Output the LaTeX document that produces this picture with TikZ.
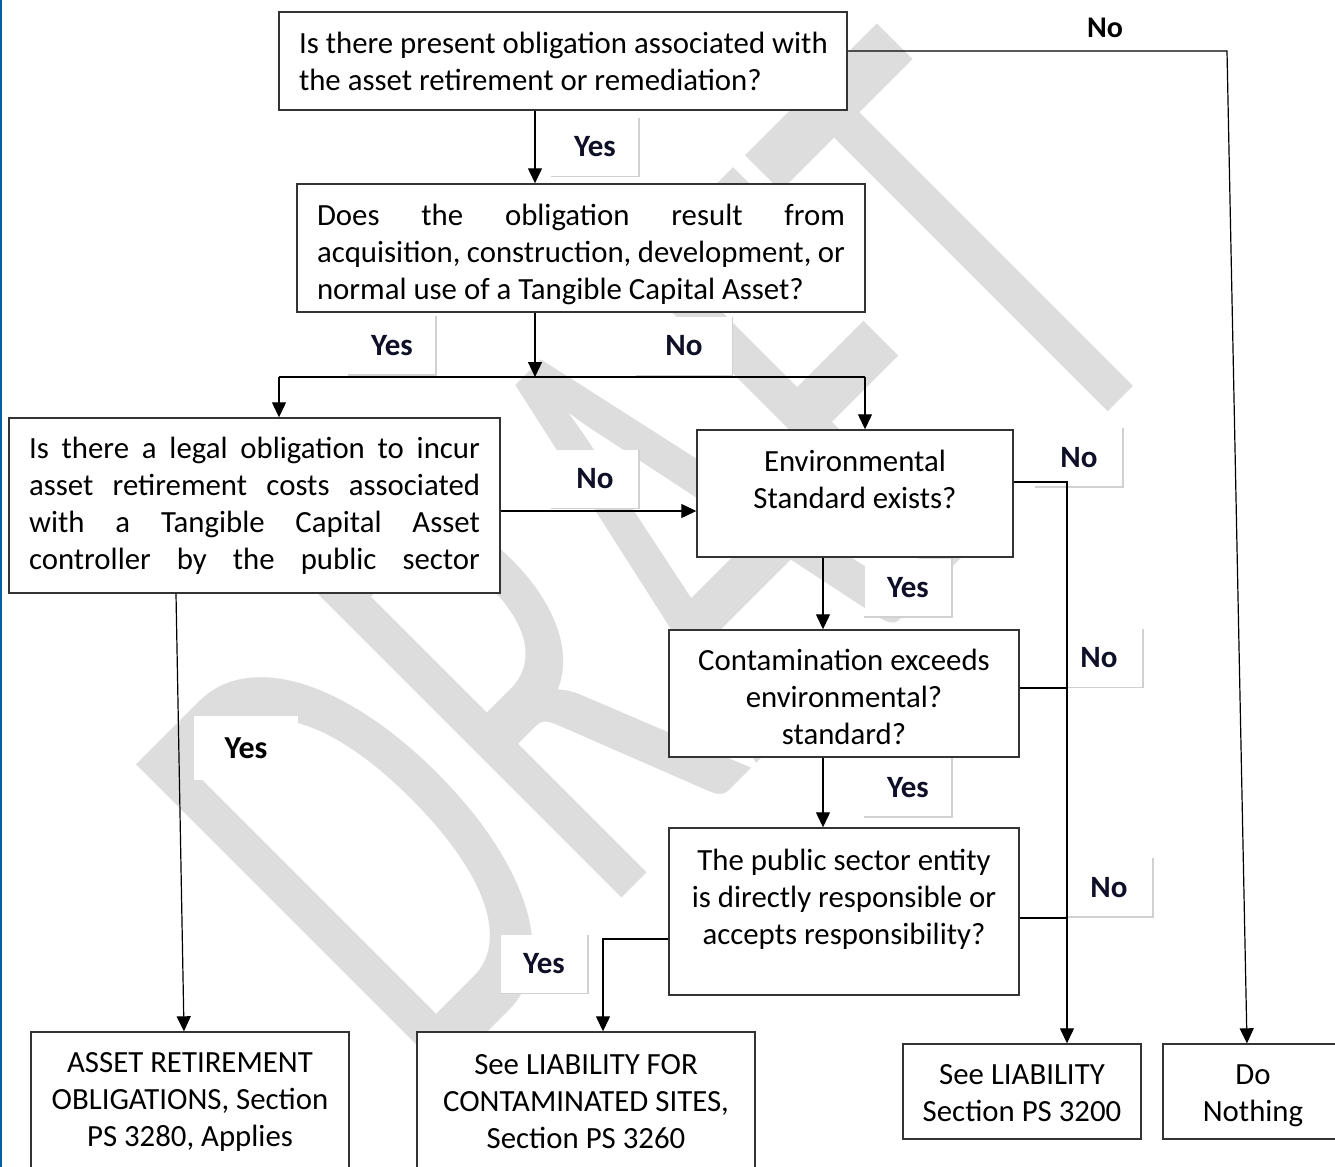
\documentclass[tikz,border=0pt]{standalone}
\usepackage{fontspec}
\setmainfont{Carlito}
\usetikzlibrary{arrows.meta,positioning}
\definecolor{wmgrey}{gray}{0.865}
\definecolor{lblink}{RGB}{15,15,40}
\definecolor{shadowgrey}{gray}{0.82}
\definecolor{edgeblue}{RGB}{0,96,160}

\begin{document}
\begin{tikzpicture}[
    x=0.5pt,y=-0.5pt,
    font=\fontsize{15.4}{18.5}\selectfont,
    box/.style={draw=black!80,line width=0.7pt,fill=white,inner sep=0pt,align=center,
                execute at begin node={\spaceskip=0pt\xspaceskip=0pt\relax}},
    lbl/.style={fill=white,inner sep=0pt,minimum width=43.5pt,minimum height=29pt,
                font=\fontsize{15.5}{17}\selectfont\bfseries,text=lblink},
    >={Triangle[width=7pt,length=7.5pt]},
    arr/.style={->,line width=0.6pt},
    link/.style={line width=0.6pt}
  ]
  \clip (0,0) rectangle (1335,1167);
  \draw[edgeblue,line width=1pt] (1,0) -- (1,1167);

  % watermark
  \node[rotate=45,anchor=base west,inner sep=0pt,text=wmgrey,
        font=\fontsize{341}{341}\selectfont] (wm) at (426,1094) {\scalebox{0.59}[1]{DRAFT}};

  % branch labels
  \node[lbl] (yQ1)    at (595,147)  {Yes};
  \node[lbl] (yQ2)    at (392,345.5) {Yes};
  \node[lbl,minimum width=48pt] (nQ2) at (684,346) {No};
  \node[lbl] (nLegal) at (595,479)  {No};
  \node[lbl] (nEnv)   at (1079,457.5) {No};
  \node[lbl] (yEnv)   at (908,587.5) {Yes};
  \node[lbl] (nExc)   at (1099,658) {No};
  \node[lbl] (yExc)   at (908,787.5) {Yes};
  \node[lbl] (nResp)  at (1109,887.5) {No};
  \node[lbl] (yResp)  at (544,964)    {Yes};
  \foreach \n in {yQ1,yQ2,nQ2,nLegal,nEnv,yEnv,nExc,yExc,nResp,yResp}
    \draw[shadowgrey,line width=0.8pt] (\n.north east) |- (\n.south west);
  \node[lbl,text=black,minimum width=52pt,minimum height=32pt,
        font=\fontsize{16}{18}\selectfont\bfseries] (yLegal) at (246,748) {Yes};
  \node[font=\fontsize{15}{17}\selectfont\bfseries,inner sep=0pt] (nTop) at (1105,28) {No};

  % questions
  \node[box,align=left,minimum width=284pt,minimum height=49pt] (present) at (563,61)
       {\makebox[264pt][l]{Is there present obligation associated with}\\
        the asset retirement or remediation?};
  \node[box,align=left,minimum width=284pt,minimum height=64pt] (cause) at (581,248)
       {\makebox[264pt][l]{\rule{0pt}{17pt}Does\hfill the\hfill obligation\hfill result\hfill from}\\
        \makebox[264pt][l]{acquisition,\hfill construction,\hfill development,\hfill or}\\
        normal use of a Tangible Capital Asset?};
  \node[box,align=left,minimum width=245.5pt,minimum height=87.5pt] (legal) at (254.5,505.5)
       {\makebox[225.5pt][l]{Is\hfill there\hfill a\hfill legal\hfill obligation\hfill to\hfill incur}\\
        \makebox[225.5pt][l]{asset\hfill retirement\hfill costs\hfill associated}\\
        \makebox[225.5pt][l]{with\hfill a\hfill Tangible\hfill Capital\hfill Asset}\\
        \makebox[225.5pt][l]{controller\hfill by\hfill the\hfill public\hfill sector}};
  \node[box,minimum width=158pt,minimum height=63.5pt] (env) at (855,493.5)
       {\rule{0pt}{14.5pt}Environmental\\Standard exists?\\\mbox{}};
  \node[box,minimum width=175pt,minimum height=63.5pt] (exceed) at (844,693.5)
       {\rule{0pt}{14.5pt}Contamination exceeds\\environmental?\\standard?};
  \node[box,minimum width=175pt,minimum height=83.5pt] (resp) at (844,911.5)
       {\rule{0pt}{14.5pt}The public sector entity\\is directly responsible or\\accepts responsibility?\\\mbox{}};

  % outcomes
  \node[box,minimum width=159pt,minimum height=70pt] (aro) at (190,1102)
       {ASSET RETIREMENT\\OBLIGATIONS, Section\\PS 3280, Applies};
  \node[box,minimum width=169pt,minimum height=70pt] (lcs) at (586,1102)
       {See LIABILITY FOR\\CONTAMINATED SITES,\\Section PS 3260};
  \node[box,minimum width=119pt,minimum height=47.5pt] (liab) at (1022,1091.5)
       {\rule{0pt}{12pt}See LIABILITY\\Section PS 3200};
  \node[box,minimum width=90pt,minimum height=47.5pt] (nothing) at (1253,1091.5)
       {\rule{0pt}{14pt}Do\\Nothing};

  % connectors
  \coordinate (farNo) at (1227,51);
  \coordinate (split) at (535,377);
  \coordinate (splitL) at (279,377);
  \coordinate (splitR) at (865,377);
  \coordinate (spine) at (823,600);
  \coordinate (rail) at (1067,482);
  \coordinate (yesTurn) at (603,939);

  \draw[arr] (present.east |- farNo) -- (farNo) -- ([xshift=-3pt]nothing.north);
  \draw[arr] (present.south -| split) -- (cause.north -| split);
  \draw[arr] (cause.south -| split) -- (split);
  \draw[link] (splitL) -- (splitR);
  \draw[arr] (splitL) -- (splitL |- legal.north);
  \draw[arr] (splitR) -- (splitR |- env.north);
  \draw[arr] ([yshift=-2.75pt]legal.east) -- ([yshift=-2.75pt]legal.east -| env.west);
  \draw[arr] (env.east |- rail) -- (rail) -- (rail |- liab.north);
  \draw[link] ([yshift=2.75pt]exceed.east) -- ([yshift=2.75pt]exceed.east -| rail);
  \draw[link] ([yshift=-3.25pt]resp.east) -- ([yshift=-3.25pt]resp.east -| rail);
  \draw[arr] (env.south -| spine) -- (exceed.north -| spine);
  \draw[arr] (exceed.south -| spine) -- (resp.north -| spine);
  \draw[arr] (resp.west |- yesTurn) -- (yesTurn) -- (yesTurn |- lcs.north);
  \draw[arr] ([xshift=-39.25pt]legal.south) -- ([xshift=-3pt]aro.north);
\end{tikzpicture}
\end{document}
